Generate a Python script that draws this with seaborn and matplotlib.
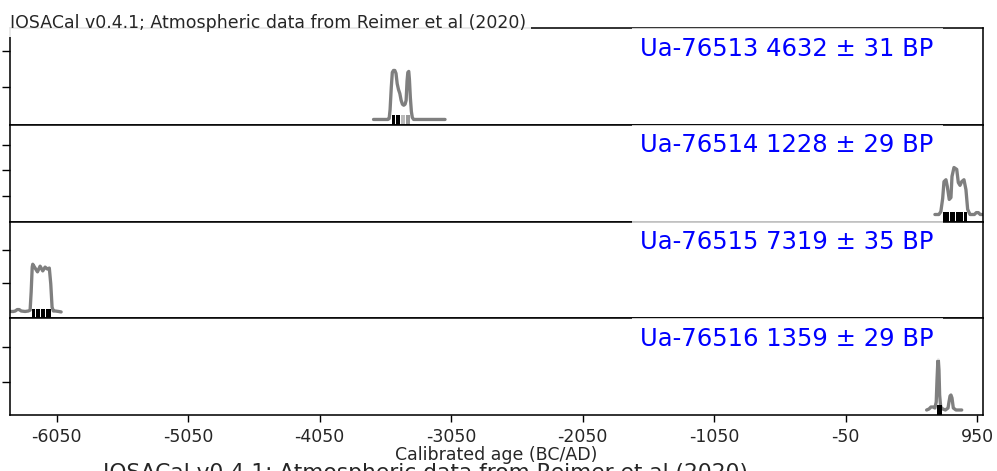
import matplotlib
matplotlib.use("Agg")
import matplotlib.pyplot as plt
import seaborn as sns

# ---------------- data ----------------
labels = ["Ua-76513 4632 ± 31 BP", "Ua-76514 1228 ± 29 BP",
          "Ua-76515 7319 ± 35 BP", "Ua-76516 1359 ± 29 BP"]

p1_years = [-3640, -3530, -3521, -3514, -3505, -3497, -3488, -3478, -3469, -3460, -3450,
            -3440, -3430, -3420, -3410, -3400, -3392, -3385, -3379, -3372, -3367, -3360,
            -3352, -3345, -3335, -3096]
p1_prob = [0, 0, .02, .20, .65, .96, 1.0, 1.0, .94, .73, .61, .53, .39, .31, .29, .31,
           .39, .78, .96, .98, .82, .45, .16, .04, 0, 0]

p2_years = [630, 660, 675, 689, 699, 714, 724, 739, 752, 760, 775, 796, 808, 821, 834,
            851, 866, 879, 897, 930, 945, 960, 975, 992]
p2_prob = [0, 0, .06, .34, .70, .74, .60, .32, .36, .81, 1.0, .96, .68, .62, .70, .74,
           .53, .11, 0, 0, .04, .04, 0, 0]

p3_years = [-6405, -6380, -6365, -6350, -6335, -6320, -6290, -6265, -6252, -6244, -6236,
            -6232, -6214, -6196, -6176, -6156, -6138, -6121, -6106, -6095, -6085, -6075,
            -6060, -6035, -6016]
p3_prob = [.01, .01, .02, .05, .05, .02, .01, .02, .04, .42, .94, 1.0, .92, .84, .96, .86,
           .94, .90, .92, .59, .10, .02, .02, .01, 0]

p4_years = [567, 585, 600, 615, 630, 640, 646, 652, 656, 661, 666, 674, 690, 710, 730,
            737, 745, 752, 760, 770, 790, 834]
p4_prob = [0, .02, .06, .06, .04, .16, .60, .96, 1.0, .80, .30, .06, .02, 0, .04, .16,
           .28, .30, .24, .04, 0, 0]

# HPD interval segments (start, end) and shading
p1_hpd = [(-3503, -3477), (-3470, -3440), (-3433, -3400), (-3394, -3362)]
p1_hpd_col = ["black", "black", "#bbbbbb", "#999999"]
p2_hpd = [(694, 736), (743, 780), (787, 843), (850, 876)]
p2_hpd_col = ["black"] * 4
p3_hpd = [(-6239, -6212), (-6205, -6179), (-6172, -6141), (-6134, -6095)]
p3_hpd_col = ["black"] * 4
p4_hpd = [(643, 682)]
p4_hpd_col = ["black"]

x_ticks = [-6050, -5050, -4050, -3050, -2050, -1050, -50, 950]
x_range = (-6405, 992)

title_text = "IOSACal v0.4.1; Atmospheric data from Reimer et al (2020)"
x_label = "Calibrated age (BC/AD)"

# ---------------- layout (per panel) ----------------
ylims = [(-0.108, 1.866), (-0.149, 1.91), (-0.132, 1.896), (-0.10, 1.835)]
yticks = [[0.667, 1.40], [0.39, 0.94, 1.48], [0.60, 1.29], [0.56, 1.26]]

series = [(p1_years, p1_prob, p1_hpd, p1_hpd_col),
          (p2_years, p2_prob, p2_hpd, p2_hpd_col),
          (p3_years, p3_prob, p3_hpd, p3_hpd_col),
          (p4_years, p4_prob, p4_hpd, p4_hpd_col)]

sns.set_style("ticks")
plt.rcParams["font.family"] = ["DejaVu Sans"]
plt.rcParams["font.size"] = 10

dpi = 125
fig, axes = plt.subplots(4, 1, sharex=True, figsize=(997 / dpi, 471 / dpi), dpi=dpi)
fig.subplots_adjust(left=10 / 997, right=982.5 / 997, top=1 - 28 / 471,
                    bottom=1 - 415 / 471, hspace=0)

for i, (ax, (yrs, prob, hpd, cols)) in enumerate(zip(axes, series)):
    for (a, b), c in zip(hpd, cols):
        ax.axvspan(a, b, ymin=0, ymax=0.1, facecolor=c, edgecolor="none",
                   linewidth=0, zorder=1)
    sns.lineplot(x=yrs, y=prob, ax=ax, color="black", alpha=0.5, linewidth=1.9,
                 sort=False, estimator=None, zorder=2)
    ax.set_ylim(*ylims[i])
    ax.set_yticks(yticks[i])
    ax.set_xlim(*x_range)
    ax.tick_params(axis="y", left=True, labelleft=False, length=4.5, width=0.8,
                   color="black")
    ax.tick_params(axis="x", bottom=(i == 3), labelbottom=(i == 3), length=4.0,
                   width=0.8, color="black", labelsize=10)
    for sp in ax.spines.values():
        sp.set_visible(True)
        sp.set_color("black")
        sp.set_linewidth(0.9)
    ax.set_ylabel("")
    ax.set_xlabel("")
    ax.text(0.95, 0.91, labels[i], transform=ax.transAxes, ha="right", va="top",
            color="blue", fontsize=14,
            bbox=dict(facecolor="white", edgecolor="none", alpha=0.75, pad=5),
            zorder=5)

axes[-1].set_xticks(x_ticks)
axes[-1].set_xticklabels([str(t) for t in x_ticks])
axes[-1].set_xlabel(x_label, fontsize=10, labelpad=0)

axes[0].text(0.0, 1.0, title_text, transform=axes[0].transAxes, ha="left",
             va="baseline", fontsize=10,
             bbox=dict(facecolor="white", edgecolor="none", alpha=0.9, pad=3),
             zorder=6, clip_on=False)

fig.text(103 / 997, 1 - 479 / 471, title_text, ha="left", va="baseline", fontsize=12.5)

fig.savefig("out.png", dpi=dpi)
